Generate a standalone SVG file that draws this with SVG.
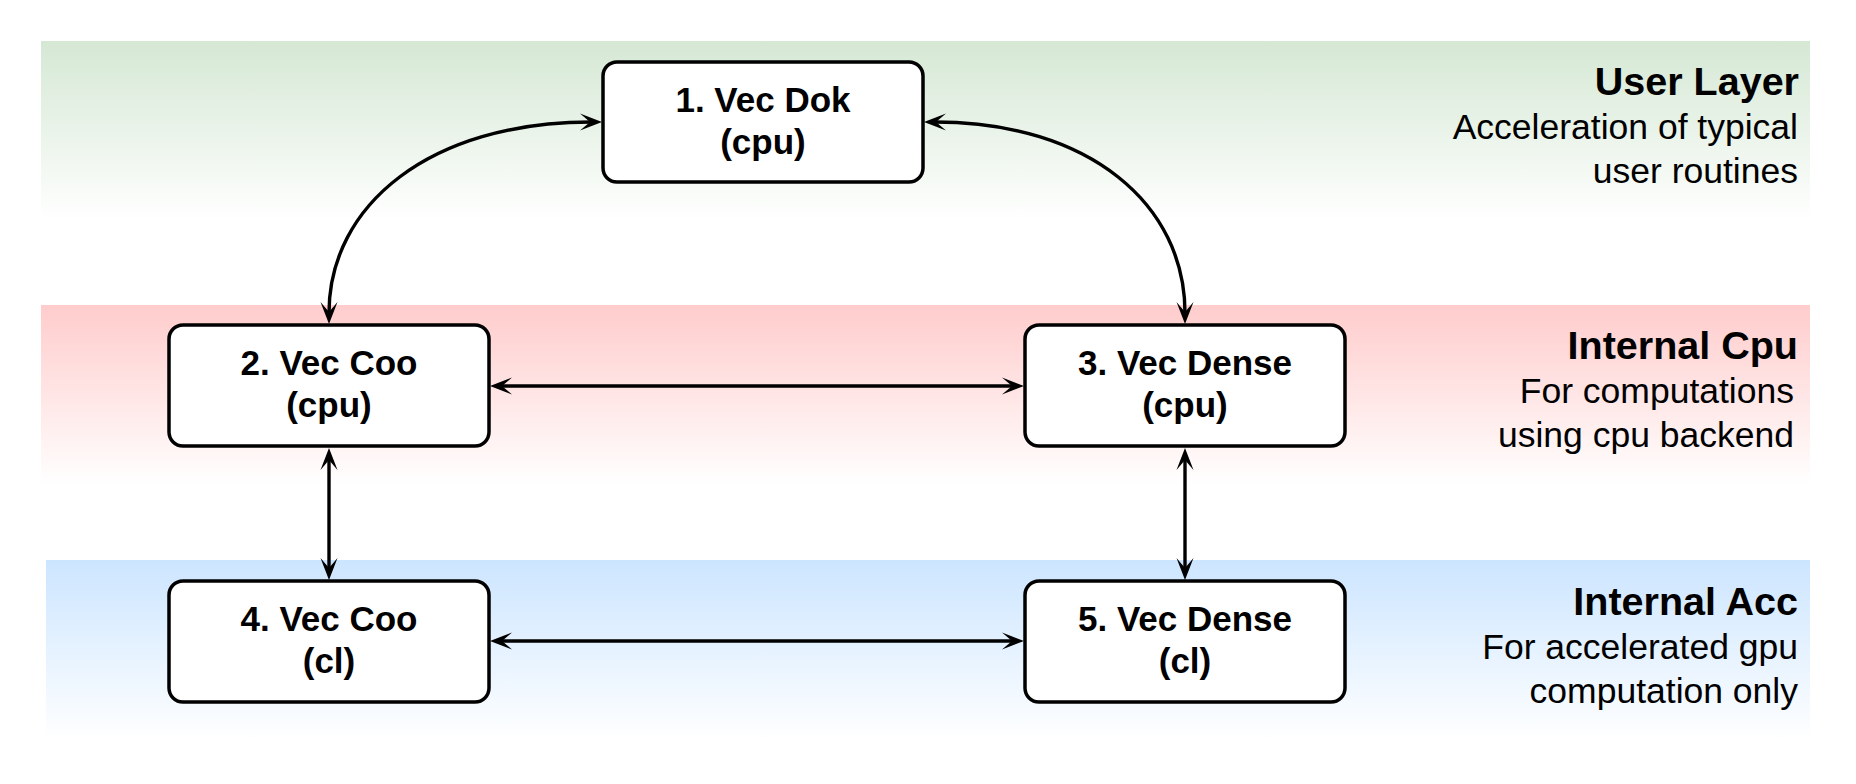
<svg xmlns="http://www.w3.org/2000/svg" width="1856" height="784" viewBox="0 0 1856 784">
  <defs>
    <linearGradient id="gGreen" x1="0" y1="0" x2="0" y2="1">
      <stop offset="0" stop-color="#d5e8d4"/>
      <stop offset="1" stop-color="#ffffff"/>
    </linearGradient>
    <linearGradient id="gRed" x1="0" y1="0" x2="0" y2="1">
      <stop offset="0" stop-color="#ffcccc"/>
      <stop offset="1" stop-color="#ffffff"/>
    </linearGradient>
    <linearGradient id="gBlue" x1="0" y1="0" x2="0" y2="1">
      <stop offset="0" stop-color="#cce5ff"/>
      <stop offset="1" stop-color="#ffffff"/>
    </linearGradient>
    <marker id="arr" markerUnits="userSpaceOnUse" markerWidth="24" markerHeight="19" viewBox="0 0 24 19" refX="12" refY="9.5" orient="auto-start-reverse">
      <path d="M1,1 L23,9.5 L1,18 L11,9.5 Z" fill="#000" stroke="none"/>
    </marker>
  </defs>
  <style>
    .node rect { fill: #ffffff; stroke: #000000; stroke-width: 3.5; }
    .node text { font-family: "Liberation Sans", Arial, Helvetica, sans-serif; font-weight: bold; font-size: 35px; text-anchor: middle; fill: #000; }
    .lbl text { font-family: "Liberation Sans", Arial, Helvetica, sans-serif; font-size: 35.5px; text-anchor: end; fill: #000; }
    .lbl .t { font-weight: bold; font-size: 39.5px; }
    .conn path { fill: none; stroke: #000; stroke-width: 3.4; marker-start: url(#arr); marker-end: url(#arr); }
  </style>

  <g id="layers">
    <rect id="band-user" x="41" y="41" width="1769" height="180" fill="url(#gGreen)"/>
    <rect id="band-cpu" x="41" y="305" width="1769" height="180" fill="url(#gRed)"/>
    <rect id="band-acc" x="46" y="560" width="1764" height="180" fill="url(#gBlue)"/>
  </g>

  <g id="label-user" class="lbl">
    <text class="t" x="1799" y="95">User Layer</text>
    <text x="1798" y="139">Acceleration of typical</text>
    <text x="1798" y="183">user routines</text>
  </g>
  <g id="label-cpu" class="lbl">
    <text class="t" x="1798" y="359">Internal Cpu</text>
    <text x="1794" y="403">For computations</text>
    <text x="1794" y="447">using cpu backend</text>
  </g>
  <g id="label-acc" class="lbl">
    <text class="t" x="1798" y="615">Internal Acc</text>
    <text x="1798" y="659">For accelerated gpu</text>
    <text x="1798" y="703">computation only</text>
  </g>

  <g id="connectors" class="conn">
    <path id="e1-2" d="M329,313 C329,205 430,122 591,122"/>
    <path id="e1-3" d="M1185,313 C1185,205 1090,122 935,122"/>
    <path id="e2-3" d="M501,386 L1013,386"/>
    <path id="e2-4" d="M329,459 L329,569"/>
    <path id="e3-5" d="M1185,459 L1185,569"/>
    <path id="e4-5" d="M501,641 L1013,641"/>
  </g>

  <g id="n1" class="node">
    <rect x="603" y="62" width="320" height="120" rx="14"/>
    <text x="763" y="112">1. Vec Dok</text>
    <text x="763" y="154">(cpu)</text>
  </g>
  <g id="n2" class="node">
    <rect x="169" y="325" width="320" height="121" rx="14"/>
    <text x="329" y="375">2. Vec Coo</text>
    <text x="329" y="417">(cpu)</text>
  </g>
  <g id="n3" class="node">
    <rect x="1025" y="325" width="320" height="121" rx="14"/>
    <text x="1185" y="375">3. Vec Dense</text>
    <text x="1185" y="417">(cpu)</text>
  </g>
  <g id="n4" class="node">
    <rect x="169" y="581" width="320" height="121" rx="14"/>
    <text x="329" y="631">4. Vec Coo</text>
    <text x="329" y="673">(cl)</text>
  </g>
  <g id="n5" class="node">
    <rect x="1025" y="581" width="320" height="121" rx="14"/>
    <text x="1185" y="631">5. Vec Dense</text>
    <text x="1185" y="673">(cl)</text>
  </g>
</svg>
